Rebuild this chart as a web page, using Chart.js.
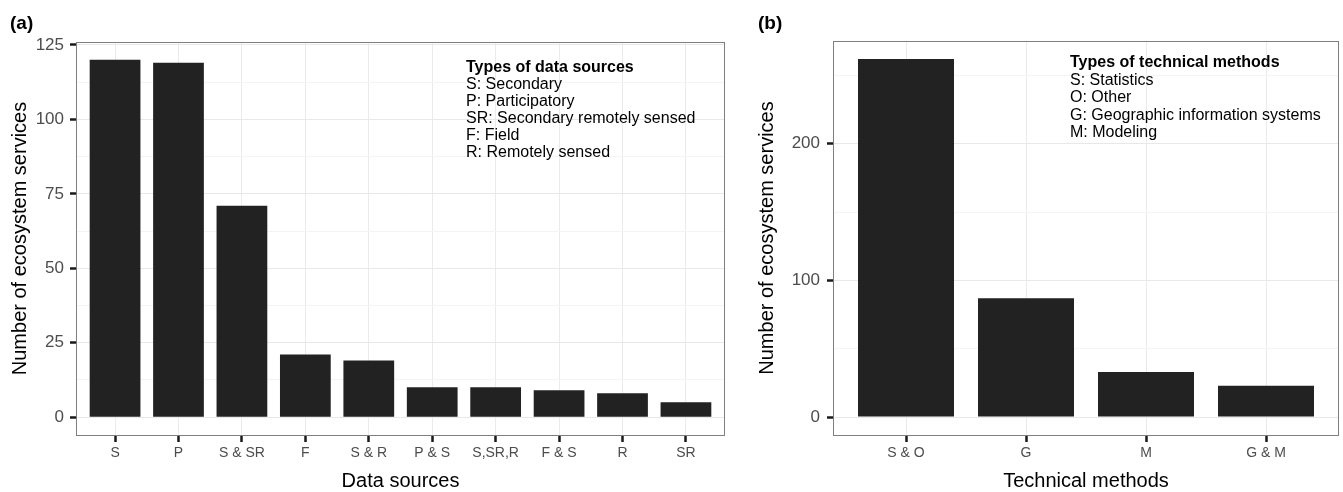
<!DOCTYPE html>
<html><head><meta charset="utf-8">
<script src="https://cdn.jsdelivr.net/npm/chart.js@4"></script>
<style>
html,body{margin:0;padding:0;background:#fff;}
body{width:1343px;height:492px;position:relative;overflow:hidden;font-family:"Liberation Sans",Arial,Helvetica,sans-serif;}
.wrap{position:absolute;top:0;height:492px;}
.wrap canvas{display:block;}
.panel{position:absolute;font-weight:bold;font-size:19px;line-height:19px;color:#000;white-space:nowrap;}
.legend{position:absolute;font-size:16px;color:#000;white-space:nowrap;}
.legend .ttl{font-weight:bold;}
</style></head><body>
<div class="wrap" style="left:0;width:740px"><canvas id="ca" width="740" height="492"></canvas></div>
<div class="wrap" style="left:740px;width:603px"><canvas id="cb" width="603" height="492"></canvas></div>
<div class="panel" id="pa" style="left:10px;top:13px"></div>
<div class="panel" id="pb" style="left:758px;top:13px"></div>
<div class="legend" id="la" style="left:466px;top:58px;line-height:17px"></div>
<div class="legend" id="lb" style="left:1070px;top:53px;line-height:17.6px"></div>
<script>
// ---- data ----
const sourceLabels = ['S', 'P', 'S & SR', 'F', 'S & R', 'P & S', 'S,SR,R', 'F & S', 'R', 'SR'];
const sourceCounts = [120, 119, 71, 21, 19, 10, 10, 9, 8, 5];
const sourceMajorTicks = [0, 25, 50, 75, 100, 125];
const sourceMinorTicks = [12.5, 37.5, 62.5, 87.5, 112.5];

const methodLabels = ['S & O', 'G', 'M', 'G & M'];
const methodCounts = [262, 87, 33, 23];
const methodMajorTicks = [0, 100, 200];
const methodMinorTicks = [50, 150, 250];

const panelTitles = ['(a)', '(b)'];
const xTitles = ['Data sources', 'Technical methods'];
const yTitle = 'Number of ecosystem services';
const sourceLegendTitle = 'Types of data sources';
const sourceLegendLines = ['S: Secondary', 'P: Participatory', 'SR: Secondary remotely sensed', 'F: Field', 'R: Remotely sensed'];
const methodLegendTitle = 'Types of technical methods';
const methodLegendLines = ['S: Statistics', 'O: Other', 'G: Geographic information systems', 'M: Modeling'];

// ---- text overlays ----
document.getElementById('pa').textContent = panelTitles[0];
document.getElementById('pb').textContent = panelTitles[1];
function fillLegend(id, title, lines) {
  const el = document.getElementById(id);
  const t = document.createElement('div'); t.className = 'ttl'; t.textContent = title; el.appendChild(t);
  lines.forEach(s => { const d = document.createElement('div'); d.textContent = s; el.appendChild(d); });
}
fillLegend('la', sourceLegendTitle, sourceLegendLines);
fillLegend('lb', methodLegendTitle, methodLegendLines);

const FONT = '"Liberation Sans", Arial, Helvetica, sans-serif';

const panelBorder = {
  id: 'panelBorder',
  afterDraw(chart) {
    const { ctx, chartArea: a } = chart;
    ctx.save();
    ctx.strokeStyle = '#7f7f7f';
    ctx.lineWidth = 1;
    ctx.strokeRect(Math.round(a.left) - 0.5, Math.round(a.top) + 0.5,
      Math.round(a.right - a.left) + 1, Math.round(a.bottom - a.top));
    ctx.restore();
  }
};

function makeChart(id, labels, values, major, minor, xTitle, g) {
  const n = labels.length;
  const maxV = Math.max(...values);
  const allTicks = major.concat(minor).sort((a, b) => a - b);
  const isMajor = v => major.indexOf(v) !== -1;
  new Chart(document.getElementById(id), {
    type: 'bar',
    data: {
      datasets: [{
        data: values.map((v, i) => ({ x: i, y: v })),
        backgroundColor: '#222222',
        borderWidth: 0,
        barPercentage: 0.8,
        categoryPercentage: 1.0
      }]
    },
    options: {
      responsive: false,
      animation: false,
      events: [],
      layout: { padding: { top: g.padTop, right: g.padRight, left: 0, bottom: 0 } },
      plugins: { legend: { display: false }, tooltip: { enabled: false } },
      scales: {
        x: {
          type: 'linear',
          min: -0.6,
          max: n - 1 + 0.6,
          offset: false,
          afterBuildTicks: s => { s.ticks = labels.map((_, i) => ({ value: i })); },
          afterFit: s => { s.height = 57; },
          grid: { offset: false, color: '#ebebeb', lineWidth: 1, tickColor: '#1a1a1a', tickWidth: 2.5, tickLength: 7 },
          border: { display: false },
          ticks: {
            autoSkip: false, maxRotation: 0, padding: 3,
            color: '#4d4d4d', font: { family: FONT, size: 14 },
            callback: v => labels[v]
          },
          title: { display: true, text: xTitle, color: '#000', font: { family: FONT, size: 20, lineHeight: 1 }, padding: { top: 0, bottom: 1 } }
        },
        y: {
          min: -maxV * 0.05,
          max: maxV * 1.05,
          afterBuildTicks: s => { s.ticks = allTicks.map(v => ({ value: v })); },
          afterFit: s => { s.width = g.yWidth; },
          grid: {
            color: c => (c.tick && isMajor(c.tick.value)) ? '#e8e8e8' : '#f4f4f4',
            lineWidth: 1,
            tickColor: c => (c.tick && isMajor(c.tick.value)) ? '#1a1a1a' : 'rgba(0,0,0,0)',
            tickWidth: 2.5, tickLength: 7
          },
          border: { display: false },
          ticks: {
            autoSkip: false, padding: g.yTickPad,
            color: '#4d4d4d', font: { family: FONT, size: 17 },
            callback: v => isMajor(v) ? String(v) : ''
          },
          title: { display: true, text: yTitle, color: '#000', font: { family: FONT, size: 20, lineHeight: 1.2 }, padding: { top: g.yTitlePad, bottom: 0 } }
        }
      }
    },
    plugins: [panelBorder]
  });
}

makeChart('ca', sourceLabels, sourceCounts, sourceMajorTicks, sourceMinorTicks, xTitles[0],
  { padTop: 42, padRight: 16, yWidth: 77, yTickPad: 6, yTitlePad: 8 });
makeChart('cb', methodLabels, methodCounts, methodMajorTicks, methodMinorTicks, xTitles[1],
  { padTop: 41, padRight: 5, yWidth: 94, yTickPad: 7, yTitlePad: 15.5 });
</script>
</body></html>
